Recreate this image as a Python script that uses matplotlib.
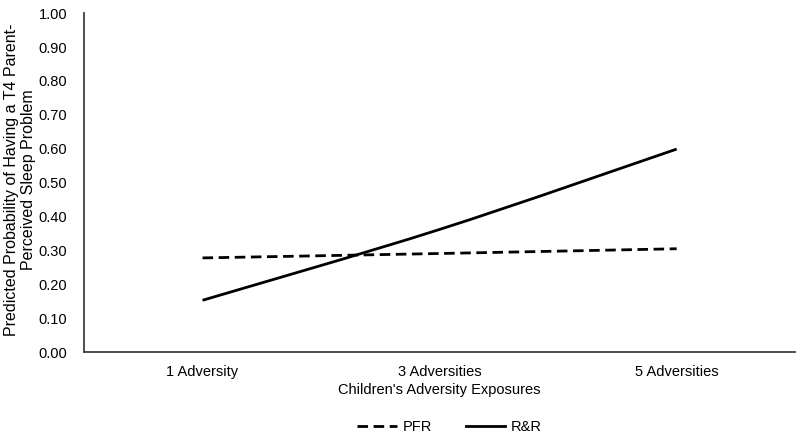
import matplotlib
matplotlib.use("Agg")
import matplotlib.pyplot as plt
from matplotlib.path import Path
from matplotlib.patches import PathPatch
from matplotlib.lines import Line2D
import numpy as np

plt.rcParams['font.family'] = ['Liberation Sans', 'DejaVu Sans']

categories = ["1 Adversity", "3 Adversities", "5 Adversities"]
pfr = [0.278, 0.291, 0.305]
rr = [0.153, 0.362, 0.599]
yticks = [0.0, 0.1, 0.2, 0.3, 0.4, 0.5, 0.6, 0.7, 0.8, 0.9, 1.0]


def smooth_path(xs, ys):
    pts = np.column_stack([xs, ys]).astype(float)
    verts = [pts[0]]
    codes = [Path.MOVETO]
    n = len(pts)
    for i in range(n - 1):
        p0 = pts[i - 1] if i > 0 else pts[i]
        p1 = pts[i]
        p2 = pts[i + 1]
        p3 = pts[i + 2] if i + 2 < n else pts[i + 1]
        c1 = p1 + (p2 - p0) / 6.0
        c2 = p2 - (p3 - p1) / 6.0
        verts += [c1, c2, p2]
        codes += [Path.CURVE4] * 3
    return Path(verts, codes)


fig = plt.figure(figsize=(8, 4.38), dpi=100)
ax = fig.add_axes([0.105, 0.196, 0.889, 0.774])

dash = (0, (3.8, 2.0))
x = np.arange(len(categories))
ax.add_patch(PathPatch(smooth_path(x, pfr), facecolor='none', edgecolor='black',
                       lw=2.0, linestyle=dash, capstyle='butt'))
ax.add_patch(PathPatch(smooth_path(x, rr), facecolor='none', edgecolor='black',
                       lw=2.0, capstyle='butt'))

ax.set_xlim(-0.5, len(categories) - 0.5)
ax.set_ylim(0, 1.0)
ax.set_xticks(x)
ax.set_xticklabels(categories, fontsize=10.5)
ax.set_yticks(yticks)
ax.set_yticklabels([f"{v:.2f}" for v in yticks], fontsize=10.5)
ax.tick_params(axis='x', length=0, pad=9, colors='black')
ax.tick_params(axis='y', length=0, pad=12, colors='black')
for s in ['top', 'right']:
    ax.spines[s].set_visible(False)
for s in ['left', 'bottom']:
    ax.spines[s].set_color('#404040')
    ax.spines[s].set_linewidth(1.3)

ax.set_xlabel("Children's Adversity Exposures", fontsize=10.5, labelpad=3)
ax.set_ylabel("Predicted Probability of Having a T4 Parent-\nPerceived Sleep Problem",
              fontsize=11.5, linespacing=1.15)
ax.yaxis.set_label_coords(-0.068, 0.51)

handles = [Line2D([], [], color='black', lw=2.0, linestyle=dash),
           Line2D([], [], color='black', lw=2.0)]
fig.legend(handles, ["PFR", "R&R"], loc='center', bbox_to_anchor=(0.562, 0.025),
           ncol=2, frameon=False, fontsize=10.5, handlelength=2.7,
           handletextpad=0.4, columnspacing=2.3)

fig.savefig("out.png", dpi=100)
